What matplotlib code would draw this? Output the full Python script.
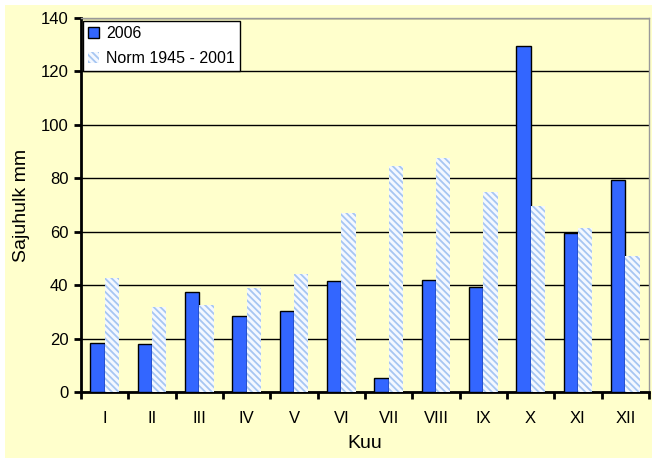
import matplotlib
matplotlib.use("Agg")
import matplotlib.pyplot as plt
import numpy as np
from matplotlib.patches import Rectangle

months = ["I", "II", "III", "IV", "V", "VI", "VII", "VIII", "IX", "X", "XI", "XII"]
y2006 = [18.3, 18.0, 37.3, 28.3, 30.2, 41.5, 5.2, 42.0, 39.3, 129.5, 59.5, 79.5]
norm = [42.7, 32.0, 32.5, 39.0, 44.0, 67.0, 84.5, 87.5, 75.0, 69.5, 61.5, 51.0]
yticks = [0, 20, 40, 60, 80, 100, 120, 140]

plt.rcParams['font.family'] = ['Liberation Sans', 'DejaVu Sans']
plt.rcParams['hatch.linewidth'] = 1.3
plt.rcParams['hatch.color'] = '#a6c6f2'

fig = plt.figure(figsize=(6.58, 4.63), dpi=100, facecolor='white')
fig.patches.append(Rectangle((5/658, 5/463), 647/658, 453/463, transform=fig.transFigure,
                             facecolor='#FFFFCC', edgecolor='none', zorder=-10))
ax = fig.add_axes([81/658, 1-392/463, 568/658, 374/463])
ax.set_facecolor('#FFFFCC')

x = np.arange(len(months))
w = 0.3
ax.bar(x - w/2, y2006, width=w, color='#3366FF', edgecolor='black', linewidth=1.0, label='2006', zorder=3)
ax.bar(x + w/2, norm, width=w, facecolor='#f4f8ff', edgecolor='#a6c6f2', linewidth=0, hatch='\\\\\\\\\\',
       label='Norm 1945 - 2001', zorder=3)

ax.set_xlim(-0.5, len(months) - 0.5)
ax.set_ylim(0, 140)
ax.set_yticks(yticks)
ax.set_yticklabels([str(v) for v in yticks], fontsize=12)
ax.yaxis.grid(True, color='black', linewidth=1.0, zorder=0)
ax.set_axisbelow(True)
ax.set_xticks(x)
ax.set_xticklabels(months, fontsize=12)
ax.set_xticks(np.arange(-0.5, len(months)), minor=True)
ax.tick_params(axis='x', which='major', length=0, pad=14)
ax.tick_params(axis='x', which='minor', length=5, width=2, direction='out')
ax.tick_params(axis='y', length=5, width=2, direction='out', pad=4)

for s in ['left', 'bottom']:
    ax.spines[s].set_linewidth(2)
    ax.spines[s].set_color('black')
for s in ['top', 'right']:
    ax.spines[s].set_linewidth(1)
    ax.spines[s].set_color('#999999')

ax.set_xlabel('Kuu', fontsize=14, labelpad=6)
ax.set_ylabel('Sajuhulk mm', fontsize=14, labelpad=8)

leg = ax.legend(loc='upper left', bbox_to_anchor=(0.003, 0.993), fontsize=11.5, frameon=True, fancybox=False,
                edgecolor='black', framealpha=1, handlelength=0.7, handleheight=0.7, handletextpad=0.4,
                borderpad=0.35, labelspacing=0.6, borderaxespad=0)
leg.get_frame().set_linewidth(1.0)

fig.savefig('out.png', dpi=100, facecolor='white')
